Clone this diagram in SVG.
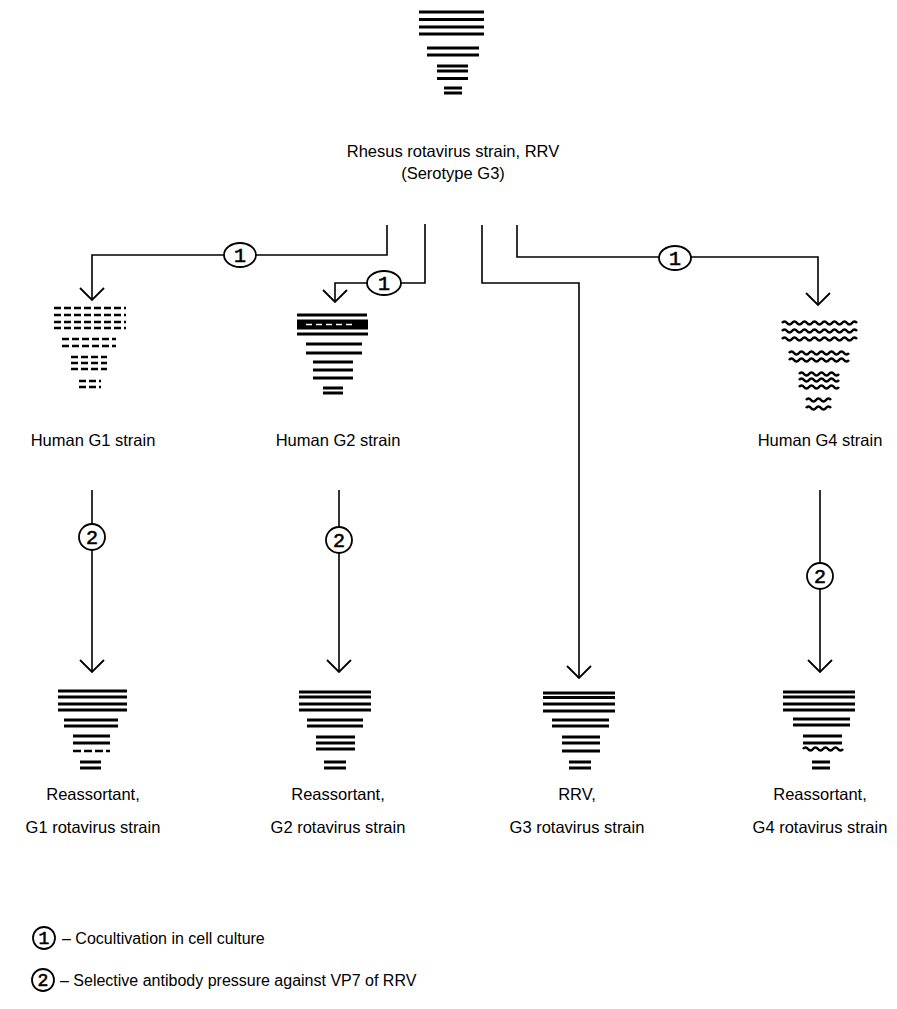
<svg xmlns="http://www.w3.org/2000/svg" width="897" height="1009" viewBox="0 0 897 1009">
<style>
.bg{fill:#fff}
.ln{fill:none;stroke:#000;stroke-width:1.6}
.ah{fill:none;stroke:#000;stroke-width:1.8}
.cir{fill:#fff;stroke:#000;stroke-width:1.8}
.num{font-family:"Liberation Mono",monospace;font-size:20px;text-anchor:middle;fill:#000;stroke:#000;stroke-width:0.6}
.lbl{font-family:"Liberation Sans",Arial,sans-serif;font-size:16.5px;text-anchor:middle;fill:#000}
.leg{font-family:"Liberation Sans",Arial,sans-serif;font-size:16px;fill:#000}
.band{fill:none;stroke:#000;stroke-width:2.8}
.dash{fill:none;stroke:#000;stroke-width:2.6;stroke-dasharray:7 3}
.wave{fill:none;stroke:#000;stroke-width:2.6}
</style>
<rect class="bg" x="0" y="0" width="897" height="1009"/>

<g id="connectors">
  <path class="ln" d="M387,225 V255 H92 V299"/>
  <path class="ah" d="M80,288 L92,300 L104,288"/>
  <path class="ln" d="M425,224 V283 H335 V301"/>
  <path class="ah" d="M323,290 L335,302 L347,290"/>
  <path class="ln" d="M482,225 V283 H579 V677"/>
  <path class="ah" d="M567,666 L579,678 L591,666"/>
  <path class="ln" d="M517,225 V257 H818 V304"/>
  <path class="ah" d="M806,293 L818,305 L830,293"/>
  <path class="ln" d="M92,490 V671"/>
  <path class="ah" d="M80,660 L92,672 L104,660"/>
  <path class="ln" d="M339,490 V671"/>
  <path class="ah" d="M327,660 L339,672 L351,660"/>
  <path class="ln" d="M820,490 V671"/>
  <path class="ah" d="M808,660 L820,672 L832,660"/>
  <g id="step1a"><ellipse class="cir" cx="240" cy="255" rx="16" ry="12"/><text class="num" x="240" y="262">1</text></g>
  <g id="step1b"><ellipse class="cir" cx="384" cy="283" rx="17" ry="12"/><text class="num" x="384" y="290">1</text></g>
  <g id="step1c"><ellipse class="cir" cx="675" cy="258" rx="16" ry="12"/><text class="num" x="675" y="265">1</text></g>
  <g id="step2a"><ellipse class="cir" cx="92" cy="537" rx="13" ry="13"/><text class="num" x="92" y="544">2</text></g>
  <g id="step2b"><ellipse class="cir" cx="339" cy="540" rx="13" ry="13"/><text class="num" x="339" y="547">2</text></g>
  <g id="step2c"><ellipse class="cir" cx="820" cy="576" rx="13" ry="13"/><text class="num" x="820" y="583">2</text></g>
</g>

<g id="rrv">
  <path class="band" d="M419,12 H484 M419,19.5 H484 M419,27 H484 M419,34 H484 M427,48 H479 M427,55 H479 M437,66 H468 M437,71 H468 M437,78.5 H468 M444,88 H462 M444,93 H462"/>
  <text class="lbl" x="453" y="157">Rhesus rotavirus strain, RRV</text>
  <text class="lbl" x="453" y="179">(Serotype G3)</text>
</g>

<g id="human-g1">
  <path class="dash" d="M54,308 H126 M54,315 H126 M54,322 H126 M54,328 H126 M62,339 H116 M62,346 H116 M71,357 H107 M71,363 H107 M71,369 H107 M79,381 H101 M79,387 H101"/>
  <text class="lbl" x="93" y="446">Human G1 strain</text>
</g>

<g id="human-g2">
  <path class="band" d="M297,315 H367 M297,334 H368 M306,344 H362 M306,353 H362 M313,362 H353 M313,370 H353 M313,378 H353 M323,388 H343 M323,393 H343"/>
  <rect x="297" y="319.5" width="71" height="10" fill="#000"/>
  <path d="M306,324.5 H356" fill="none" stroke="#fff" stroke-width="1.5" stroke-dasharray="6 4"/>
  <text class="lbl" x="338" y="446">Human G2 strain</text>
</g>

<g id="human-g4">
  <path class="wave" d="M782,323 q2.5,-3 5,0 t5,0 t5,0 t5,0 t5,0 t5,0 t5,0 t5,0 t5,0 t5,0 t5,0 t5,0 t5,0 t5,0 t5,0"/>
  <path class="wave" d="M782,331 q2.5,-3 5,0 t5,0 t5,0 t5,0 t5,0 t5,0 t5,0 t5,0 t5,0 t5,0 t5,0 t5,0 t5,0 t5,0 t5,0"/>
  <path class="wave" d="M782,339 q2.5,-3 5,0 t5,0 t5,0 t5,0 t5,0 t5,0 t5,0 t5,0 t5,0 t5,0 t5,0 t5,0 t5,0 t5,0 t5,0"/>
  <path class="wave" d="M789,353 q2.5,-3 5,0 t5,0 t5,0 t5,0 t5,0 t5,0 t5,0 t5,0 t5,0 t5,0 t5,0 t5,0"/>
  <path class="wave" d="M789,360 q2.5,-3 5,0 t5,0 t5,0 t5,0 t5,0 t5,0 t5,0 t5,0 t5,0 t5,0 t5,0 t5,0"/>
  <path class="wave" d="M799,374 q2.5,-3 5,0 t5,0 t5,0 t5,0 t5,0 t5,0 t5,0 t5,0"/>
  <path class="wave" d="M799,380 q2.5,-3 5,0 t5,0 t5,0 t5,0 t5,0 t5,0 t5,0 t5,0"/>
  <path class="wave" d="M799,387 q2.5,-3 5,0 t5,0 t5,0 t5,0 t5,0 t5,0 t5,0 t5,0"/>
  <path class="wave" d="M806,400 q2.5,-3 5,0 t5,0 t5,0 t5,0 t5,0"/>
  <path class="wave" d="M806,408 q2.5,-3 5,0 t5,0 t5,0 t5,0 t5,0"/>
  <text class="lbl" x="820" y="446">Human G4 strain</text>
</g>

<g id="reassortant-g1">
  <path class="band" d="M58,691 H127 M58,697 H127 M58,704 H127 M58,710 H127 M64,720 H118 M64,726 H118 M73,736 H110 M73,743 H110 M80,762 H101 M80,768 H101"/>
  <path class="dash" d="M73,751 H110" style="stroke-dasharray:8 3"/>
  <text class="lbl" x="93" y="800">Reassortant,</text>
  <text class="lbl" x="93" y="833">G1 rotavirus strain</text>
</g>

<g id="reassortant-g2">
  <path class="band" d="M299,692 H371 M299,697 H371 M299,704 H371 M299,710 H371 M307,720 H363 M307,726 H363 M316,737 H355 M316,743 H355 M316,749 H355 M324,762 H346 M324,768 H346"/>
  <text class="lbl" x="338" y="800">Reassortant,</text>
  <text class="lbl" x="338" y="833">G2 rotavirus strain</text>
</g>

<g id="rrv-g3">
  <path class="band" d="M543,693 H615 M543,697.5 H615 M543,704 H615 M543,711 H615 M552,720 H609 M552,726 H609 M562,737 H600 M562,743 H600 M562,751 H600 M569,762 H591 M569,768 H591"/>
  <text class="lbl" x="577" y="800">RRV,</text>
  <text class="lbl" x="577" y="833">G3 rotavirus strain</text>
</g>

<g id="reassortant-g4">
  <path class="band" d="M783,692 H855 M783,697 H855 M783,704 H855 M783,710 H855 M793,719 H850 M793,725 H850 M803,736 H842 M803,743 H842 M812,762 H830 M812,768 H830"/>
  <path class="wave" d="M803,749 q2.5,-3 5,0 t5,0 t5,0 t5,0 t5,0 t5,0 t5,0 t5,0"/>
  <text class="lbl" x="820" y="800">Reassortant,</text>
  <text class="lbl" x="820" y="833">G4 rotavirus strain</text>
</g>

<g id="legend">
  <g id="legend-1"><ellipse class="cir" cx="44" cy="938" rx="11" ry="11"/><text class="num" x="44" y="944" style="font-size:18px">1</text>
  <text class="leg" x="62" y="944">– Cocultivation in cell culture</text></g>
  <g id="legend-2"><ellipse class="cir" cx="43" cy="980" rx="11" ry="11"/><text class="num" x="43" y="986" style="font-size:18px">2</text>
  <text class="leg" x="60" y="986">– Selective antibody pressure against VP7 of RRV</text></g>
</g>
</svg>
